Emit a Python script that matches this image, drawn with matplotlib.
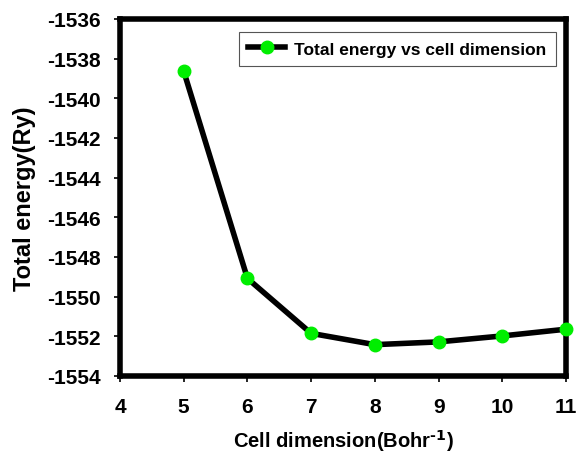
import matplotlib
matplotlib.use('Agg')
import matplotlib.pyplot as plt

plt.rcParams['font.family'] = ['Liberation Sans', 'DejaVu Sans']
plt.rcParams['font.weight'] = 'bold'
plt.rcParams['axes.unicode_minus'] = False
plt.rcParams['mathtext.default'] = 'bf'

# data
cell_dim = [5, 6, 7, 8, 9, 10, 11]
energy = [-1538.63, -1549.08, -1551.85, -1552.42, -1552.28, -1551.98, -1551.64]
x_ticks = list(range(4, 12))
y_ticks = list(range(-1554, -1535, 2))

fig = plt.figure(figsize=(5.76, 4.64), dpi=100)
ax = fig.add_axes([120 / 576, 1 - 377 / 464, 446 / 576, 357 / 464])

ax.plot(cell_dim, energy, '-', color='black', lw=4, marker='o', ms=9,
        mfc='#00ee00', mec='#00ee00', label='Total energy vs cell dimension',
        clip_on=False, zorder=5)

ax.set_xlim(4, 11)
ax.set_ylim(-1554, -1536)
ax.set_xticks(x_ticks, [str(t) for t in x_ticks], fontsize=15, fontweight='bold')
ax.set_yticks(y_ticks, [str(t) for t in y_ticks], fontsize=15, fontweight='bold')

for sp in ax.spines.values():
    sp.set_linewidth(4)

ax.tick_params(axis='both', width=1.2, length=4, direction='out')
ax.tick_params(axis='x', pad=11)
ax.tick_params(axis='y', pad=10)

ax.set_xlabel('Cell dimension(Bohr$^{\\text{-}1}$)', fontsize=14.5, fontweight='bold', labelpad=8)
ax.set_ylabel('Total energy(Ry)', fontsize=17, fontweight='bold', labelpad=8)

leg = ax.legend(loc='upper right', bbox_to_anchor=(0.978, 0.964), borderaxespad=0,
                prop={'weight': 'bold', 'size': 12.5}, fancybox=False,
                handlelength=2.1, handletextpad=0.55, borderpad=0.55, framealpha=1)
leg.get_frame().set_edgecolor('#555555')
leg.get_frame().set_linewidth(0.8)

fig.savefig('out.png', dpi=100)
